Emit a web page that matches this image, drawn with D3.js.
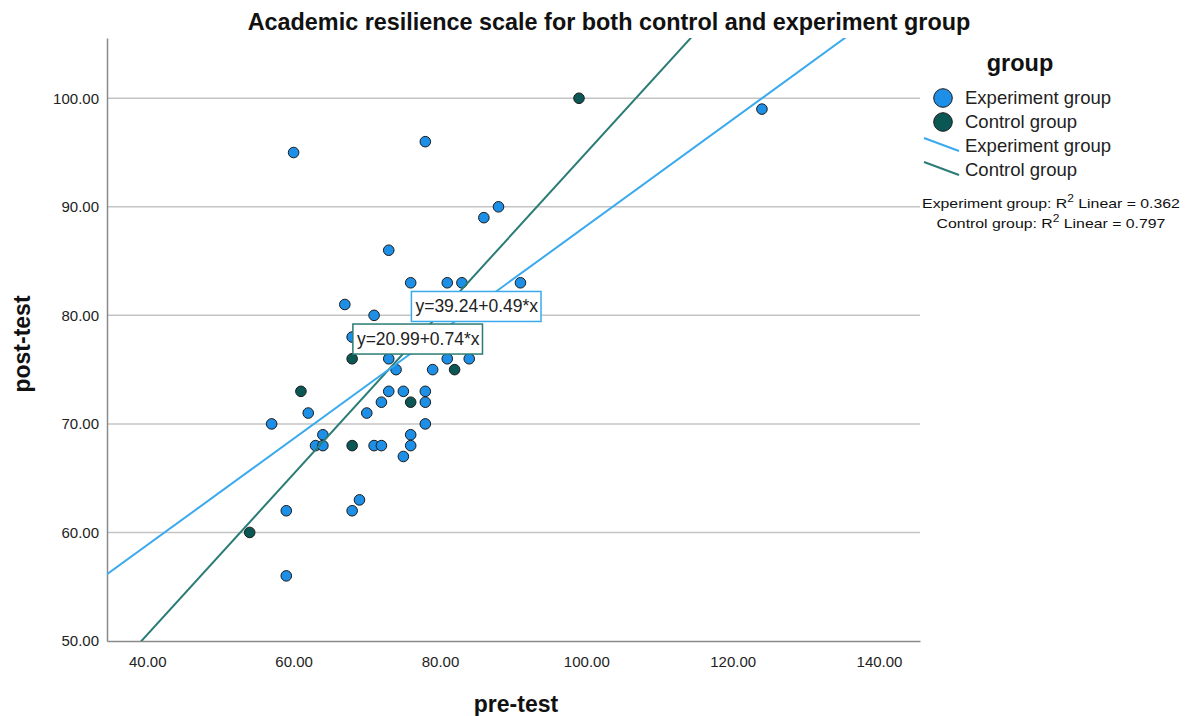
<!DOCTYPE html>
<html>
<head>
<meta charset="utf-8">
<script src="https://cdn.jsdelivr.net/npm/d3@7"></script>
<style>
  html, body { margin: 0; padding: 0; background: #fff; }
  svg { display: block; font-family: "Liberation Sans", Arial, sans-serif; }
</style>
</head>
<body>
<svg id="chart" width="1192" height="716"></svg>
<script>
// Pre-test / post-test scores per student
const experimentPre  = [60, 78, 124, 88, 86, 73, 76, 81, 83, 91, 67, 71, 68, 73, 81, 84, 74, 79, 73, 75, 78, 72, 78, 62, 70, 57, 78, 64, 76, 63, 64, 71, 72, 76, 75, 69, 68, 59, 59];
const experimentPost = [95, 96, 99, 90, 89, 86, 83, 83, 83, 83, 81, 80, 78, 76, 76, 76, 75, 75, 73, 73, 73, 72, 72, 71, 71, 70, 70, 69, 69, 68, 68, 68, 68, 68, 67, 63, 62, 62, 56];
const controlPre  = [99, 68, 82, 61, 76, 68, 54];
const controlPost = [100, 76, 75, 73, 72, 68, 60];

// Linear fits (intercept, slope) and R squared
const groupNames = ["Experiment group", "Control group"];
const fitIntercept = [39.24, 20.99];
const fitSlope = [0.49, 0.74];
const fitR2 = [0.362, 0.797];
// Where each fit-equation box sits (pre-test, post-test of its top-left corner)
const fitLabelAt = [[76.1, 82.2], [68.1, 79.2]];

const xTicks = [40, 60, 80, 100, 120, 140];
const yTicks = [50, 60, 70, 80, 90, 100];

const pointFill = ["#1e8fe6", "#0b5753"];
const lineColor = ["#3aa9ee", "#2b7c76"];

const svg = d3.select("#chart");
const plotLeft = 107, plotRight = 920, plotTop = 38, plotBottom = 641;

const x = d3.scaleLinear().domain([34.5, 145.6]).range([plotLeft, plotRight]);
const y = d3.scaleLinear().domain([50, 105.55]).range([plotBottom, plotTop]);

// Title
svg.append("text")
  .attr("x", 609).attr("y", 30)
  .attr("text-anchor", "middle")
  .attr("font-size", 23.4).attr("font-weight", "bold").attr("fill", "#111")
  .text("Academic resilience scale for both control and experiment group");

// Horizontal grid lines
svg.append("g")
  .selectAll("line")
  .data(yTicks.filter(d => d > 50))
  .join("line")
  .attr("x1", plotLeft).attr("x2", plotRight)
  .attr("y1", d => y(d)).attr("y2", d => y(d))
  .attr("stroke", "#c4c4c4").attr("stroke-width", 1.5);

// Axes
const xAxis = svg.append("g")
  .attr("transform", `translate(0,${plotBottom})`)
  .call(d3.axisBottom(x).tickValues(xTicks).tickSize(0).tickPadding(15).tickFormat(d3.format(".2f")));
const yAxis = svg.append("g")
  .attr("transform", `translate(${plotLeft},0)`)
  .call(d3.axisLeft(y).tickValues(yTicks).tickSize(0).tickPadding(8).tickFormat(d3.format(".2f")));
[xAxis, yAxis].forEach(a => {
  a.select(".domain").attr("stroke", "#8a8a8a").attr("stroke-width", 1.5);
  a.selectAll("text")
    .attr("font-family", "'Liberation Sans', Arial, sans-serif")
    .attr("font-size", 15).attr("fill", "#222");
});

// Axis titles
svg.append("text")
  .attr("x", 516).attr("y", 712)
  .attr("text-anchor", "middle")
  .attr("font-size", 23).attr("font-weight", "bold").attr("fill", "#111")
  .text("pre-test");
svg.append("text")
  .attr("transform", "translate(30,344) rotate(-90)")
  .attr("text-anchor", "middle")
  .attr("font-size", 23).attr("font-weight", "bold").attr("fill", "#111")
  .text("post-test");

// Scatter points
const groups = [
  { pre: experimentPre, post: experimentPost },
  { pre: controlPre, post: controlPost }
];
const pts = svg.append("g");
groups.forEach((g, gi) => {
  pts.append("g").selectAll("circle")
    .data(g.pre.map((p, i) => [p, g.post[i]]))
    .join("circle")
    .attr("cx", d => x(d[0])).attr("cy", d => y(d[1]))
    .attr("r", 5.3)
    .attr("fill", pointFill[gi])
    .attr("stroke", "#1a1a1a").attr("stroke-width", 1);
});

// Fit lines clipped to the plot area
svg.append("clipPath").attr("id", "plotClip")
  .append("rect").attr("x", plotLeft).attr("y", plotTop)
  .attr("width", plotRight - plotLeft).attr("height", plotBottom - plotTop);
const fits = svg.append("g").attr("clip-path", "url(#plotClip)");
[1, 0].forEach(gi => {
  const [d0, d1] = x.domain();
  fits.append("line")
    .attr("x1", x(d0)).attr("y1", y(fitIntercept[gi] + fitSlope[gi] * d0))
    .attr("x2", x(d1)).attr("y2", y(fitIntercept[gi] + fitSlope[gi] * d1))
    .attr("stroke", lineColor[gi]).attr("stroke-width", 2);
});

// Fit-equation boxes
[0, 1].forEach(gi => {
  const [lx, ly] = fitLabelAt[gi];
  const g = svg.append("g").attr("transform", `translate(${x(lx)},${y(ly)})`);
  const t = g.append("text")
    .attr("x", 4).attr("y", 21)
    .attr("font-size", 17.5).attr("fill", "#222")
    .text(`y=${fitIntercept[gi].toFixed(2)}+${fitSlope[gi].toFixed(2)}*x`);
  const w = t.node().getComputedTextLength() + 7;
  g.insert("rect", "text")
    .attr("width", w).attr("height", 30)
    .attr("fill", "#fff")
    .attr("stroke", lineColor[gi]).attr("stroke-width", 1.5);
});

// Legend
const lg = svg.append("g");
lg.append("text")
  .attr("x", 1020).attr("y", 71)
  .attr("text-anchor", "middle")
  .attr("font-size", 23.5).attr("font-weight", "bold").attr("fill", "#111")
  .text("group");
[0, 1].forEach(gi => {
  const cy = 98 + gi * 24;
  lg.append("circle")
    .attr("cx", 943).attr("cy", cy).attr("r", 9.3)
    .attr("fill", pointFill[gi]).attr("stroke", "#1a1a1a").attr("stroke-width", 1);
  lg.append("text")
    .attr("x", 965).attr("y", cy + 6)
    .attr("font-size", 18.5).attr("fill", "#222")
    .text(groupNames[gi]);
});
[0, 1].forEach(gi => {
  const cy = 146 + gi * 24;
  lg.append("line")
    .attr("x1", 924).attr("y1", cy - 8)
    .attr("x2", 959).attr("y2", cy + 5)
    .attr("stroke", lineColor[gi]).attr("stroke-width", 2);
  lg.append("text")
    .attr("x", 965).attr("y", cy + 6)
    .attr("font-size", 18.5).attr("fill", "#222")
    .text(groupNames[gi]);
});
// R squared notes, drawn slightly wide
[0, 1].forEach(gi => {
  const t = lg.append("g")
    .attr("transform", `translate(1051,${208 + gi * 20}) scale(1.2,1)`)
    .append("text")
    .attr("text-anchor", "middle")
    .attr("font-size", 13.2).attr("fill", "#111");
  t.append("tspan").text(`${groupNames[gi]}: R`);
  t.append("tspan").attr("dy", -6).attr("font-size", 10).text("2");
  t.append("tspan").attr("dy", 6).text(` Linear = ${fitR2[gi].toFixed(3)}`);
});
</script>
</body>
</html>
